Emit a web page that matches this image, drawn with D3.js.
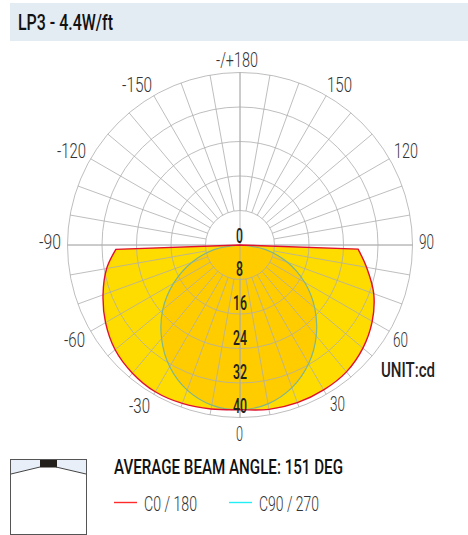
<!DOCTYPE html>
<html>
<head>
<meta charset="utf-8">
<script src="https://cdn.jsdelivr.net/npm/d3@7"></script>
<style>
  html, body { margin: 0; padding: 0; background: #fff; }
  text { font-family: Roboto, sans-serif; }
</style>
</head>
<body>
<svg id="chart" width="468" height="535"></svg>
<script>
// candela, degrees from straight down
const c0Angles = [-88, -80, -70, -60, -50, -40, -30, -20, -10, 0, 10, 20, 30, 40, 50, 60, 70, 80, 88];
const c0Values = [28.8, 31.4, 33.8, 36, 37.8, 38.8, 39.3, 39.1, 38.6, 38.2, 38.7, 38.9, 38.8, 38.4, 37.2, 35.4, 33, 29.8, 27.4];
const c90Angles = [-90, -80, -70, -60, -50, -40, -30, -20, -10, 0, 10, 20, 30, 40, 50, 60, 70, 80, 90];
const c90Values = [0, 6.1, 12, 17.8, 23.4, 28.3, 32.6, 35.8, 37.7, 38.2, 37.4, 35.2, 31.8, 27.5, 22.6, 17.3, 11.7, 5.9, 0];
const ringTicks = [8, 16, 24, 32, 40];
const ringLabels = ['0', '8', '16', '24', '32', '40'];
const angleLabels = ['-/+180', '-150', '-120', '-90', '-60', '-30', '0', '30', '60', '90', '120', '150'];

const svg = d3.select('#chart');
const cx = 240, cy = 245;
const rScale = d3.scaleLinear().domain([0, 40]).range([0, 172.5]);

// text squeezed to a given width, the reference uses a condensed face
function label(t, x0, x1, base, size, weight, color) {
  return svg.append('text').attr('x', x0).attr('y', base)
    .attr('textLength', x1 - x0).attr('lengthAdjust', 'spacingAndGlyphs')
    .attr('font-size', size).attr('font-weight', weight).attr('fill', color).text(t);
}

// header band
svg.append('rect').attr('x', 10).attr('y', 3).attr('width', 458).attr('height', 38).attr('fill', '#e3ebf3');
label('LP3 - 4.4W/ft', 18, 113, 30, 22, 500, '#111');

const g = svg.append('g').attr('transform', `translate(${cx},${cy})`);
const toRad = d => d * Math.PI / 180;
// angle 0 points down
const polar = (a, r) => [r * Math.sin(toRad(a)), r * Math.cos(toRad(a))];

const line = d3.line().curve(d3.curveCatmullRom);
const shape = (angles, values) => {
  const pts = angles.map((a, i) => polar(a, rScale(values[i])));
  return 'M0,0L' + line(pts).slice(1) + 'Z';
};

g.append('path').attr('d', shape(c0Angles, c0Values)).attr('fill', '#ffdc00');
g.append('path').attr('d', shape(c90Angles, c90Values)).attr('fill', '#ffcc00');

// grid
const gridColor = '#adadad';
ringTicks.forEach(v => {
  g.append('circle').attr('r', rScale(v)).attr('fill', 'none').attr('stroke', gridColor).attr('stroke-width', 0.8);
});
d3.range(-170, 190, 10).forEach(a => {
  const [x1, y1] = polar(a, rScale(8));
  const [x2, y2] = polar(a, rScale(40));
  g.append('line').attr('x1', x1).attr('y1', y1).attr('x2', x2).attr('y2', y2)
    .attr('stroke', gridColor).attr('stroke-width', 0.8);
});
g.append('line').attr('x1', -rScale(40)).attr('x2', rScale(40)).attr('stroke', gridColor).attr('stroke-width', 0.8);
g.append('line').attr('y1', -rScale(40)).attr('y2', rScale(40)).attr('stroke', gridColor).attr('stroke-width', 0.8);

// curves on top of the grid
g.append('path').attr('d', shape(c90Angles, c90Values)).attr('fill', 'none').attr('stroke', '#7fb58f').attr('stroke-width', 1.2);
g.append('path').attr('d', shape(c0Angles, c0Values)).attr('fill', 'none').attr('stroke', '#e0102f').attr('stroke-width', 1.4);

// ring values
const ringSpots = [[236, 243, 243], [236, 243, 276], [233, 247, 310], [233, 247, 345], [233, 247, 379], [233, 247, 413]];
ringLabels.forEach((t, i) => {
  label(t, ringSpots[i][0], ringSpots[i][1], ringSpots[i][2], 20, 500, '#231f1a');
});

// angle labels
const angleSpots = [[216, 258, 67], [122, 152, 92], [57, 86, 158], [39, 61, 249], [64, 85, 347], [129, 150, 413],
  [236, 243, 441], [330, 345, 411], [393, 408, 347], [419, 434, 249], [394, 418, 158], [327, 352, 92]];
angleLabels.forEach((t, i) => {
  label(t, angleSpots[i][0], angleSpots[i][1], angleSpots[i][2], 21, 300, '#333');
});

label('UNIT:cd', 381, 435, 377, 21, 500, '#222');

// luminaire sketch
svg.append('path').attr('d', 'M11,459H86V474L56,467H40L11,474Z').attr('fill', '#e8eff8');
svg.append('rect').attr('x', 40).attr('y', 459).attr('width', 17).attr('height', 8.5).attr('fill', '#231f1a');
svg.append('path').attr('d', 'M11,474L40,467M56,467L86,474').attr('stroke', '#444').attr('fill', 'none');
svg.append('rect').attr('x', 10.5).attr('y', 459.5).attr('width', 76).attr('height', 75).attr('fill', 'none').attr('stroke', '#555');

label('AVERAGE BEAM ANGLE: 151 DEG', 114, 343, 474, 21, 500, '#111');

svg.append('line').attr('x1', 114).attr('x2', 137).attr('y1', 502.5).attr('y2', 502.5).attr('stroke', '#ff2a2a').attr('stroke-width', 1.4);
label('C0 / 180', 144, 197, 511, 21, 300, '#333');
svg.append('line').attr('x1', 229).attr('x2', 252).attr('y1', 502.5).attr('y2', 502.5).attr('stroke', '#22eef5').attr('stroke-width', 1.4);
label('C90 / 270', 259, 319, 511, 21, 300, '#333');
</script>
</body>
</html>
